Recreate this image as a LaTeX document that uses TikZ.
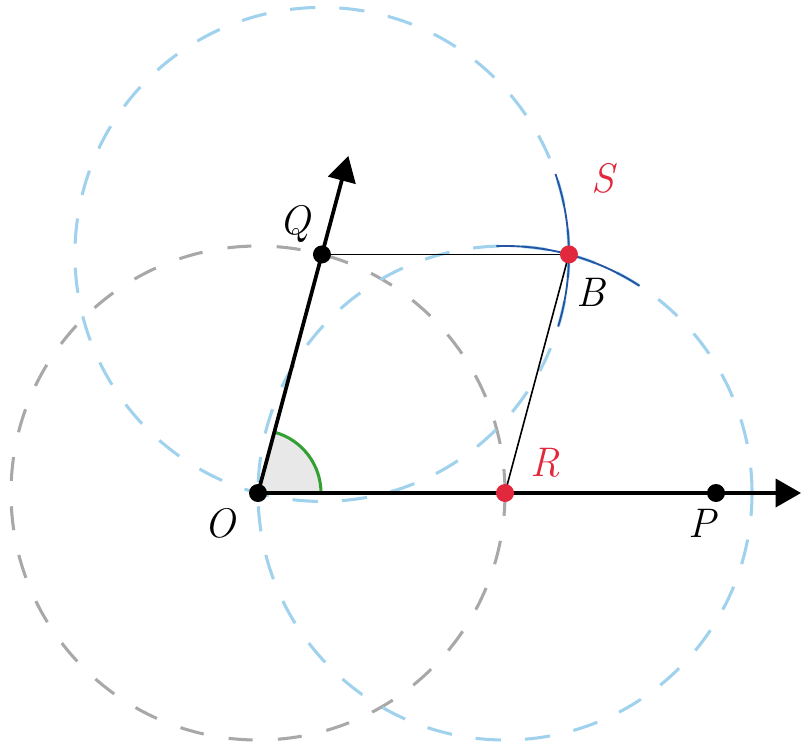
\documentclass[tikz,border=0pt]{standalone}
\usetikzlibrary{arrows.meta,calc}
\definecolor{lblue}{RGB}{160,210,238}
\definecolor{lgray}{RGB}{168,168,168}
\definecolor{dblue}{RGB}{35,85,165}
\definecolor{pred}{RGB}{225,40,60}
\definecolor{agreen}{RGB}{50,160,50}
\definecolor{afill}{RGB}{232,232,232}
\tikzset{
  gcirc/.style={draw=lgray,line width=2.3pt,dash pattern=on 18pt off 19pt},
  bcirc/.style={draw=lblue,line width=2.3pt,dash pattern=on 19pt off 18pt},
  darc/.style={draw=dblue,line width=1.4pt},
  axis/.style={line width=2.8pt,-{Triangle[length=19pt,width=21pt]}},
  thin/.style={line width=1.2pt},
  bdot/.style={circle,fill=black,inner sep=0pt,minimum size=13.5pt},
  rdot/.style={circle,fill=pred,inner sep=0pt,minimum size=13.5pt},
  lab/.style={font=\fontsize{31}{31}\selectfont\itshape,inner sep=0pt}
}
\begin{document}
\begin{tikzpicture}[x=0.75pt,y=0.75pt]
\useasboundingbox (0,0) rectangle (805,751);
\coordinate (O) at (258,258);
\coordinate (R) at (505,258);
\coordinate (P) at (716,258);
\coordinate (Q) at ($(O)+(75:247)$);
\coordinate (B) at ($(R)+(75:247)$);
\coordinate (Pend) at (801,258);
\coordinate (Qend) at ($(O)+(75:349)$);
% circles
\draw[gcirc] (O) circle (247);
\draw[bcirc] (R) circle (247);
\draw[bcirc] (Q) circle (247);
% dark arcs
\draw[darc] ($(Q)+(-17:247)$) arc (-17:19:247);
\draw[darc] ($(R)+(57:247)$) arc (57:92:247);
% angle
\fill[afill] (O) -- ++(63,0) arc (0:75:63) -- cycle;
\draw[agreen,line width=2.3pt] ($(O)+(63,0)$) arc (0:75:63);
% lines
\draw[thin] (Q) -- (B);
\draw[thin] (B) -- (R);
\draw[axis] (O) -- (Pend);
\draw[axis] (O) -- (Qend);
% dots
\node[bdot] (dO) at (O) {};
\node[bdot] (dQ) at (Q) {};
\node[bdot] (dP) at (P) {};
\node[rdot] (dR) at (R) {};
\node[rdot] (dB) at (B) {};
% labels
\node[lab] (lO) at (220,228) {O};
\node[lab] (lP) at (702,228) {P};
\node[lab] (lQ) at (295,527) {Q};
\node[lab] (lB) at (591,459) {B};
\node[lab,text=pred] (lR) at (545,288) {R};
\node[lab,text=pred] (lS) at (603,573) {S};
\end{tikzpicture}
\end{document}
